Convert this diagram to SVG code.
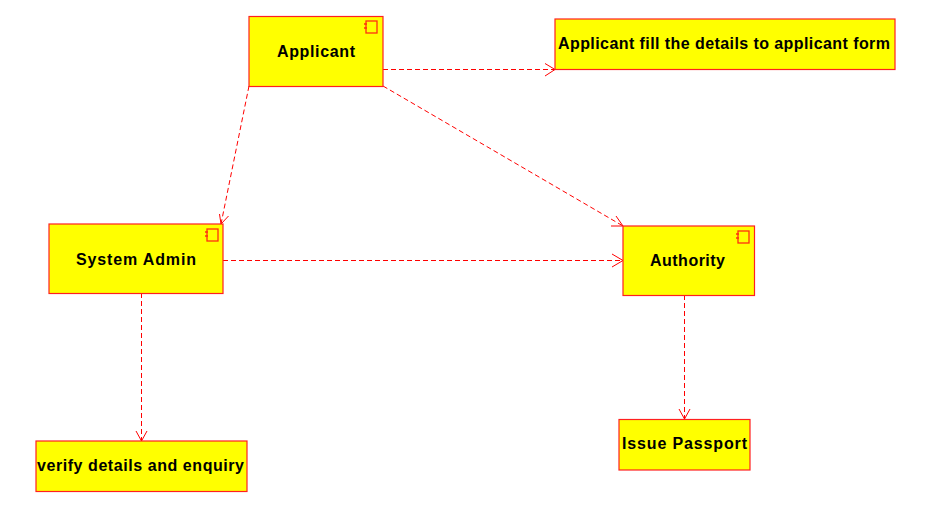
<svg xmlns="http://www.w3.org/2000/svg" width="938" height="530" viewBox="0 0 938 530">
<defs>
<style>
.n{fill:#ffff00;stroke:#ff2020;stroke-width:1.2}
.i{fill:none;stroke:#ff3010;stroke-width:1.3}
.t{font-family:"Liberation Sans",Arial,sans-serif;font-size:16px;font-weight:bold;fill:#000;text-anchor:middle}
.c{fill:none;stroke:#ff0000;stroke-width:1;stroke-dasharray:5 3}
.h{fill:none;stroke:#ff0000;stroke-width:1}
</style>
<g id="ci"><rect class="i" x="-11" y="0" width="11" height="12"/><path class="i" d="M-13 3h3M-13 7h3"/></g>
</defs>
<rect width="938" height="530" fill="#fff"/>
<g id="connectors">
<path class="c" d="M383 69.500H555"/><path class="h" d="M545 63.500L555 69.500L545 76"/>
<path class="c" d="M249 86L221 224"/><path class="h" d="M219.500 214L221 224L228.500 216"/>
<path class="c" d="M383 86L623 226"/><path class="h" d="M611 226H623L616 216"/>
<path class="c" d="M223 260.500H623"/><path class="h" d="M612 254L623 260.500L612 267"/>
<path class="c" d="M141.500 293V441"/><path class="h" d="M136 431L141.500 441L147 431"/>
<path class="c" d="M684.500 295V419"/><path class="h" d="M679 409L684.500 419L690 409"/>
</g>
<g id="applicant"><rect class="n" x="249" y="16.500" width="134" height="70"/><use href="#ci" x="377" y="21"/><text class="t" x="316" y="57" textLength="78" lengthAdjust="spacing">Applicant</text></g>
<g id="form"><rect class="n" x="555" y="19" width="340" height="50.500"/><text class="t" x="724" y="49" textLength="332" lengthAdjust="spacing">Applicant fill the details to applicant form</text></g>
<g id="admin"><rect class="n" x="49" y="224" width="174" height="69.500"/><use href="#ci" x="218" y="229"/><text class="t" x="136" y="265" textLength="120" lengthAdjust="spacing">System Admin</text></g>
<g id="authority"><rect class="n" x="623" y="226" width="131.500" height="69.500"/><use href="#ci" x="749" y="231"/><text class="t" x="687.500" y="266" textLength="75" lengthAdjust="spacing">Authority</text></g>
<g id="verify"><rect class="n" x="36" y="441" width="211" height="50.500"/><text class="t" x="140.500" y="471" textLength="207" lengthAdjust="spacing">verify details and enquiry</text></g>
<g id="issue"><rect class="n" x="619" y="419.500" width="131" height="50.500"/><text class="t" x="684.500" y="449" textLength="125" lengthAdjust="spacing">Issue Passport</text></g>
</svg>
